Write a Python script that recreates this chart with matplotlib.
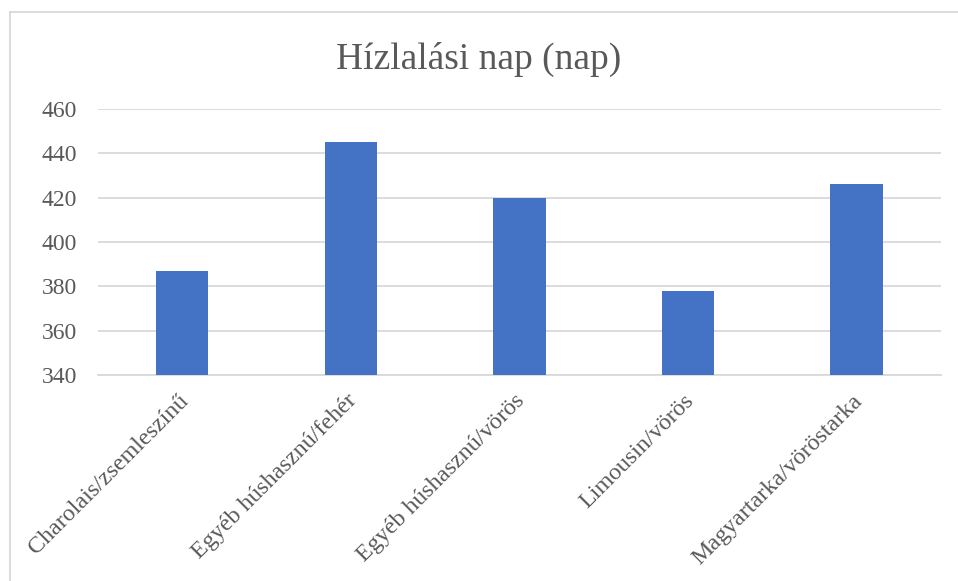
#!/usr/bin/env python3
"""Hízlalási nap (nap) -- bar chart by breed/colour category."""
import matplotlib
matplotlib.use("Agg")
import matplotlib.pyplot as plt
from matplotlib.lines import Line2D
from matplotlib.transforms import ScaledTranslation

categories = ["Charolais/zsemleszínű", "Egyéb húshasznú/fehér",
              "Egyéb húshasznú/vörös", "Limousin/vörös", "Magyartarka/vöröstarka"]
values = [387, 445, 420, 378, 426]
yticks = [340, 360, 380, 400, 420, 440, 460]

TEXT = "#595959"
plt.rcParams["font.family"] = ["Liberation Serif", "DejaVu Serif"]

fig = plt.figure(figsize=(9.58, 5.81), dpi=100)
ax = fig.add_axes([0.1023, 0.3546, 0.8797, 0.4578])

x = range(len(categories))
ax.bar(x, values, width=0.31, color="#4472C4", zorder=3)

ax.set_ylim(340, 460)
ax.set_xlim(-0.5, len(categories) - 0.5)
ax.set_yticks(yticks)
ax.set_yticklabels([str(v) for v in yticks])
ax.set_xticks(list(x))
ax.set_xticklabels(categories, rotation=45, ha="right", rotation_mode="anchor")
ax.yaxis.grid(True, color="#D9D9D9", lw=1.3, zorder=0)
ax.tick_params(axis="y", length=0, pad=15, labelsize=17, labelcolor=TEXT)
ax.tick_params(axis="x", length=0, pad=11, labelsize=17.3, labelcolor=TEXT)
# nudge rotated category labels a few pixels left, as in the original
shift = ScaledTranslation(-0.05, 0, fig.dpi_scale_trans)
for lbl in ax.get_xticklabels():
    lbl.set_transform(lbl.get_transform() + shift)
for s in ["top", "right", "left"]:
    ax.spines[s].set_visible(False)
ax.spines["bottom"].set_color("#D9D9D9")
ax.spines["bottom"].set_linewidth(1.3)

fig.text(0.5, 0.897, "Hízlalási nap (nap)", ha="center", va="center",
         fontsize=27, color=TEXT)

# chart area border (top and left edges visible in the crop)
fig.add_artist(Line2D([10 / 958, 1], [1 - 12 / 581] * 2, color="#D9D9D9", lw=1.3))
fig.add_artist(Line2D([10 / 958] * 2, [0, 1 - 12 / 581], color="#D9D9D9", lw=1.3))

fig.savefig("out.png", dpi=100)
